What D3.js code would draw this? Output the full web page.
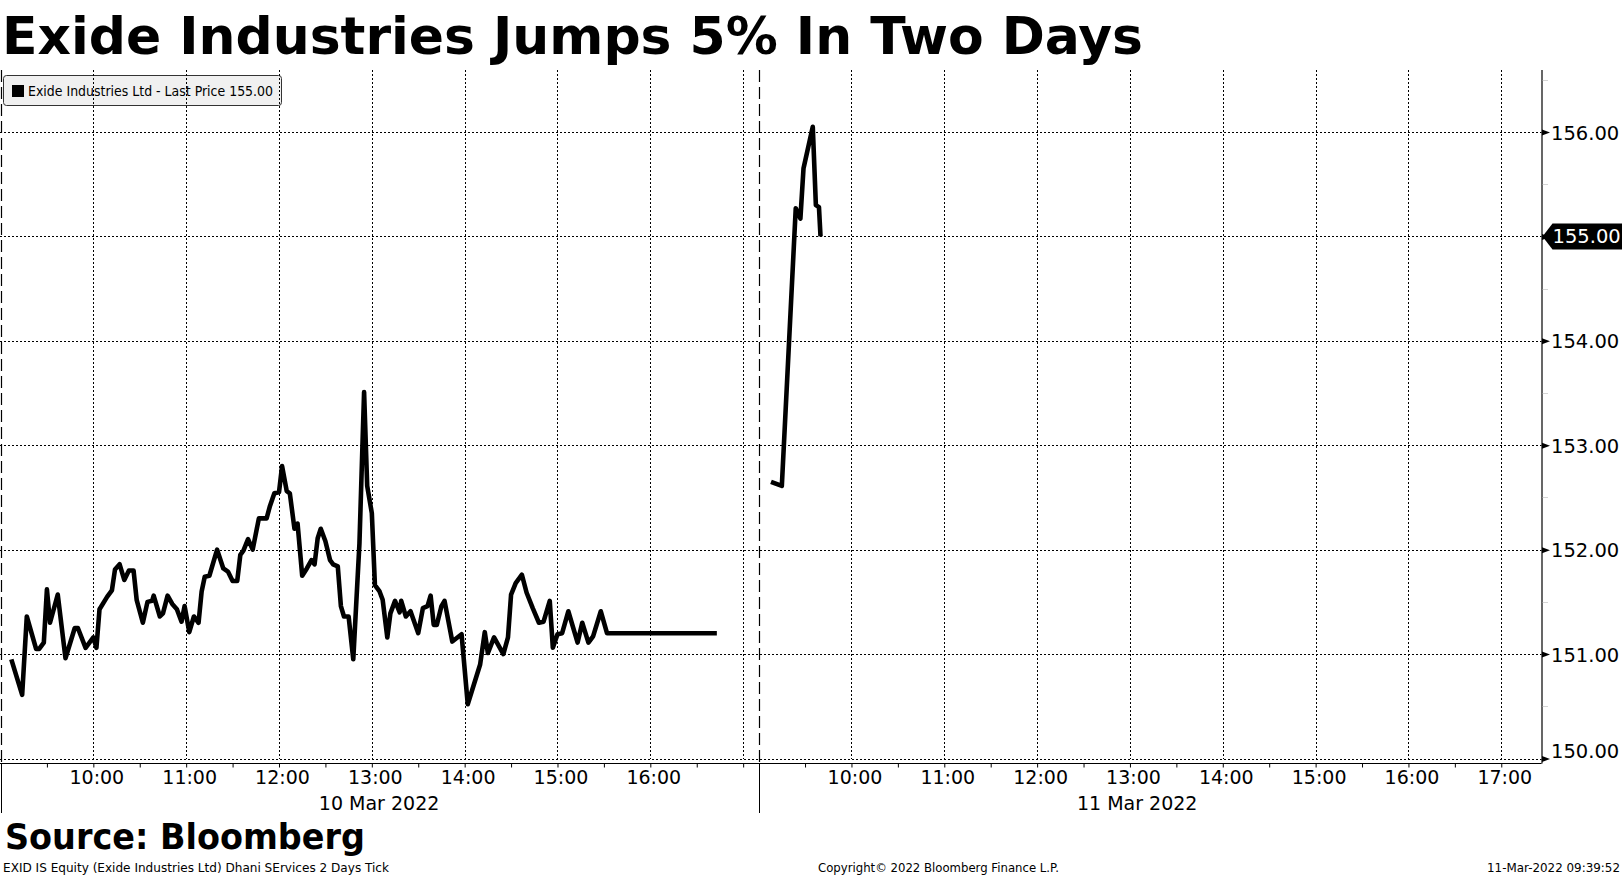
<!DOCTYPE html>
<html lang="en">
<head>
<meta charset="UTF-8">
<title>Exide Industries Jumps 5% In Two Days</title>
<script src="https://d3js.org/d3.v7.min.js"></script>
<style>
  body { margin: 0; background: #fff; }
  svg { display: block; background: #fff; }
  text { font-family: "DejaVu Sans", sans-serif; fill: #000; }
  .grid line { stroke: #000; stroke-width: 1; stroke-dasharray: 2,2; }
  .axis path.domain { display: none; }
</style>
</head>
<body>
<svg id="chart" width="1622" height="877"></svg>
<script>
// texts
var titleText = "Exide Industries Jumps 5% In Two Days";
var legendText = "Exide Industries Ltd - Last Price 155.00";
var sourceText = "Source: Bloomberg";
var footLeft = "EXID IS Equity (Exide Industries Ltd) Dhani SErvices 2 Days  Tick";
var footMid = "Copyright\u00A9 2022 Bloomberg Finance L.P.";
var footRight = "11-Mar-2022 09:39:52";

// sessions shown on the axis
var dayLabels = ["10 Mar 2022", "11 Mar 2022"];
var dayStart = ["09:00", "09:00"];
var dayEnd = ["17:10", "17:26"];

// price ticks
var yTicks = [150, 151, 152, 153, 154, 155, 156];
var lastPrice = 155.00;

// 10 Mar 2022
var day1Times = ["9:07","9:14","9:17","9:23","9:25","9:28","9:30","9:32","9:37","9:42",
  "9:48","9:50","9:55","10:00","10:02","10:04","10:09","10:12","10:14","10:17",
  "10:20","10:23","10:26","10:28","10:32","10:35","10:38","10:39","10:43","10:45",
  "10:48","10:51","10:54","10:57","10:59","11:02","11:05","11:08","11:10","11:12",
  "11:15","11:20","11:24","11:27","11:30","11:33","11:35","11:37","11:40","11:43",
  "11:47","11:52","11:54","11:57","12:00","12:02","12:05","12:07","12:10","12:12",
  "12:15","12:18","12:21","12:23","12:25","12:27","12:30","12:33","12:35","12:38",
  "12:40","12:42","12:45","12:48","12:52","12:55","12:57","13:00","13:02","13:05",
  "13:07","13:10","13:12","13:15","13:18","13:19","13:22","13:25","13:30","13:33",
  "13:36","13:38","13:40","13:42","13:45","13:47","13:52","13:58","14:02","14:10",
  "14:13","14:15","14:19","14:25","14:28","14:30","14:33","14:37","14:40","14:44",
  "14:48","14:51","14:55","14:57","15:00","15:03","15:07","15:13","15:16","15:20",
  "15:23","15:28","15:32","16:43"];
var day1Prices = [150.95,150.61,151.36,151.05,151.05,151.11,151.62,151.30,151.57,150.96,
  151.25,151.25,151.06,151.16,151.06,151.43,151.55,151.61,151.81,151.86,
  151.71,151.80,151.80,151.52,151.30,151.50,151.51,151.56,151.36,151.39,
  151.56,151.48,151.43,151.31,151.46,151.21,151.36,151.30,151.60,151.74,
  151.75,152.00,151.82,151.79,151.70,151.70,151.95,151.99,152.10,152.00,
  152.30,152.30,152.41,152.54,152.55,152.80,152.56,152.54,152.20,152.25,
  151.75,151.82,151.90,151.86,152.11,152.20,152.08,151.90,151.86,151.84,
  151.46,151.36,151.36,150.95,152.06,153.51,152.61,152.35,151.66,151.60,
  151.52,151.16,151.39,151.51,151.40,151.51,151.36,151.41,151.20,151.44,
  151.46,151.56,151.28,151.28,151.46,151.51,151.12,151.19,150.52,150.90,
  151.21,151.01,151.16,151.00,151.16,151.57,151.68,151.76,151.59,151.44,
  151.30,151.31,151.51,151.06,151.19,151.20,151.41,151.11,151.30,151.11,
  151.17,151.41,151.20,151.20];

// 11 Mar 2022
var day2Times = ["9:08","9:15","9:24","9:27","9:29","9:35","9:37","9:39","9:40"];
var day2Prices = [152.65,152.61,155.27,155.17,155.65,156.05,155.30,155.28,155.00];

var svg = d3.select("#chart"),
    width = +svg.attr("width"),
    height = +svg.attr("height");

var plotLeft = 0.5, plotRight = 1541.5, plotTop = 70, axisY = 763.5;

function hrs(t) {
  var p = t.split(":");
  return +p[0] + (+p[1]) / 60;
}

// session offsets along one continuous axis
var dayLen = dayStart.map(function(s, i) { return hrs(dayEnd[i]) - hrs(s); });
var dayOffset = [0, dayLen[0]];
var totalHours = d3.sum(dayLen);

var x = d3.scaleLinear().domain([0, totalHours]).range([plotLeft, plotRight]);
var y = d3.scaleLinear().domain([150, 156]).range([758.5, 132]);

function xPos(day, t) {
  return x(dayOffset[day] + hrs(t) - hrs(dayStart[day]));
}

// legend (under the grid, like the original)
var legend = svg.append("g");
legend.append("rect")
  .attr("x", 3.5).attr("y", 75.5).attr("width", 278).attr("height", 30)
  .attr("rx", 3).attr("fill", "#f0f0f0").attr("stroke", "#333");
legend.append("rect")
  .attr("x", 12).attr("y", 85).attr("width", 12).attr("height", 12).attr("fill", "#000");
legend.append("text")
  .attr("x", 28).attr("y", 96)
  .attr("font-size", 14)
  .attr("textLength", 245).attr("lengthAdjust", "spacingAndGlyphs")
  .text(legendText);

// grid
var grid = svg.append("g").attr("class", "grid");
grid.selectAll("line.h")
  .data(yTicks)
  .enter().append("line")
  .attr("class", "h")
  .attr("x1", 0).attr("x2", plotRight)
  .attr("y1", function(d) { return Math.round(y(d)) + 0.5; })
  .attr("y2", function(d) { return Math.round(y(d)) + 0.5; });

var hourTicks = [];
var halfTicks = [];
dayStart.forEach(function(s, i) {
  for (var h = hrs(s) + 0.5; h <= hrs(dayEnd[i]); h += 0.5) {
    var v = dayOffset[i] + h - hrs(s);
    if (v >= totalHours) continue;
    halfTicks.push(v);
    if (h % 1 === 0) hourTicks.push({ day: i, hour: h, v: v });
  }
});

grid.selectAll("line.v")
  .data(hourTicks)
  .enter().append("line")
  .attr("class", "v")
  .attr("x1", function(d) { return Math.round(x(d.v)) + 0.5; })
  .attr("x2", function(d) { return Math.round(x(d.v)) + 0.5; })
  .attr("y1", plotTop).attr("y2", 759);

// day separators
svg.selectAll("line.sep")
  .data(dayOffset)
  .enter().append("line")
  .attr("x1", function(d) { return Math.round(x(d)) + 0.5; })
  .attr("x2", function(d) { return Math.round(x(d)) + 0.5; })
  .attr("y1", plotTop).attr("y2", axisY)
  .attr("stroke", "#000").attr("stroke-width", 1.2)
  .attr("stroke-dasharray", "12,5");
svg.selectAll("line.sepb")
  .data(dayOffset)
  .enter().append("line")
  .attr("x1", function(d) { return Math.round(x(d)) + 0.5; })
  .attr("x2", function(d) { return Math.round(x(d)) + 0.5; })
  .attr("y1", axisY).attr("y2", 813)
  .attr("stroke", "#000");

// x axis: half-hour ticks
var xAxis = svg.append("g").attr("class", "axis")
  .attr("transform", "translate(0," + axisY + ")")
  .call(d3.axisBottom(x).tickValues(halfTicks).tickSize(4).tickFormat(""));
xAxis.selectAll(".tick line").attr("stroke", "#000");
svg.append("line")
  .attr("x1", 0).attr("x2", plotRight)
  .attr("y1", axisY).attr("y2", axisY)
  .attr("stroke", "#000").attr("stroke-width", 1.2);

// hour labels that fit inside their session
var labelTicks = hourTicks.filter(function(d) {
  return x(d.v) + 30 < x(dayOffset[d.day] + dayLen[d.day]);
});
var xLab = svg.append("g").attr("class", "axis")
  .attr("transform", "translate(3," + axisY + ")")
  .call(d3.axisBottom(x)
    .tickValues(labelTicks.map(function(d) { return d.v; }))
    .tickSize(0)
    .tickFormat(function(v) {
      var t = labelTicks.find(function(d) { return d.v === v; });
      return d3.format("02")(t.hour) + ":00";
    }));
xLab.selectAll("text")
  .attr("y", 20).attr("dy", 0)
  .attr("font-size", 19)
  .attr("font-family", "DejaVu Sans");

// session date labels
svg.selectAll("text.day")
  .data(dayLabels)
  .enter().append("text")
  .attr("class", "day")
  .attr("x", function(d, i) { return x(dayOffset[i] + 4.1) - 2; })
  .attr("y", 810)
  .attr("text-anchor", "middle")
  .attr("font-size", 19)
  .text(function(d) { return d; });

// y axis on the right
svg.append("line")
  .attr("x1", plotRight + 0.5).attr("x2", plotRight + 0.5)
  .attr("y1", plotTop).attr("y2", axisY)
  .attr("stroke", "#000").attr("stroke-width", 1.2);

var yAxis = svg.append("g").attr("class", "axis")
  .attr("transform", "translate(" + (plotRight + 0.5) + ",0)")
  .call(d3.axisRight(y).tickValues(yTicks).tickSize(0).tickPadding(9)
    .tickFormat(d3.format(".2f")));
yAxis.selectAll("text")
  .attr("font-size", 19.5)
  .attr("font-family", "DejaVu Sans")
  .attr("dy", function(d) { return d === 150 ? "-0.05em" : "0.36em"; });
yAxis.selectAll(".tick").append("path")
  .attr("d", "M0,-3L8,0L0,3Z")
  .attr("fill", "#000");

// minor ticks
var minorTicks = d3.range(150.5, 156.6, 1);
svg.selectAll("line.minor")
  .data(minorTicks)
  .enter().append("line")
  .attr("x1", plotRight + 1).attr("x2", plotRight + 6)
  .attr("y1", function(d) { return Math.round(y(d)) + 0.5; })
  .attr("y2", function(d) { return Math.round(y(d)) + 0.5; })
  .attr("stroke", "#aaa").attr("stroke-dasharray", "1,1");

// price lines
var line = d3.line()
  .x(function(d) { return xPos(d.day, d.t); })
  .y(function(d) { return y(d.p); });

var series = [
  day1Times.map(function(t, i) { return { day: 0, t: t, p: day1Prices[i] }; }),
  day2Times.map(function(t, i) { return { day: 1, t: t, p: day2Prices[i] }; })
];

svg.selectAll("path.price")
  .data(series)
  .enter().append("path")
  .attr("class", "price")
  .attr("d", line)
  .attr("fill", "none")
  .attr("stroke", "#000")
  .attr("stroke-width", 4.6)
  .attr("stroke-linejoin", "round");

// last price tag
var ly = y(lastPrice);
svg.append("path")
  .attr("d", "M" + (plotRight + 1) + "," + ly +
    "L" + (plotRight + 11) + "," + (ly - 13) +
    "L" + width + "," + (ly - 13) +
    "L" + width + "," + (ly + 13) +
    "L" + (plotRight + 11) + "," + (ly + 13) + "Z")
  .attr("fill", "#000");
svg.append("text")
  .attr("x", plotRight + 11).attr("y", ly).attr("dy", "0.36em")
  .attr("font-size", 19.5)
  .style("fill", "#fff")
  .text(d3.format(".2f")(lastPrice));

// title and footer
svg.append("text")
  .attr("x", 2).attr("y", 54)
  .attr("font-size", 52).attr("font-weight", "bold")
  .attr("textLength", 1141).attr("lengthAdjust", "spacingAndGlyphs")
  .text(titleText);

svg.append("text")
  .attr("x", 5).attr("y", 849)
  .attr("font-size", 36).attr("font-weight", "bold")
  .attr("textLength", 360).attr("lengthAdjust", "spacingAndGlyphs")
  .text(sourceText);

svg.append("text")
  .attr("x", 3).attr("y", 872)
  .attr("font-size", 12)
  .attr("textLength", 386).attr("lengthAdjust", "spacingAndGlyphs")
  .text(footLeft);
svg.append("text")
  .attr("x", 818).attr("y", 872)
  .attr("font-size", 12)
  .attr("textLength", 241).attr("lengthAdjust", "spacingAndGlyphs")
  .text(footMid);
svg.append("text")
  .attr("x", 1620).attr("y", 872)
  .attr("text-anchor", "end")
  .attr("font-size", 12)
  .attr("textLength", 133).attr("lengthAdjust", "spacingAndGlyphs")
  .text(footRight);
</script>
</body>
</html>
